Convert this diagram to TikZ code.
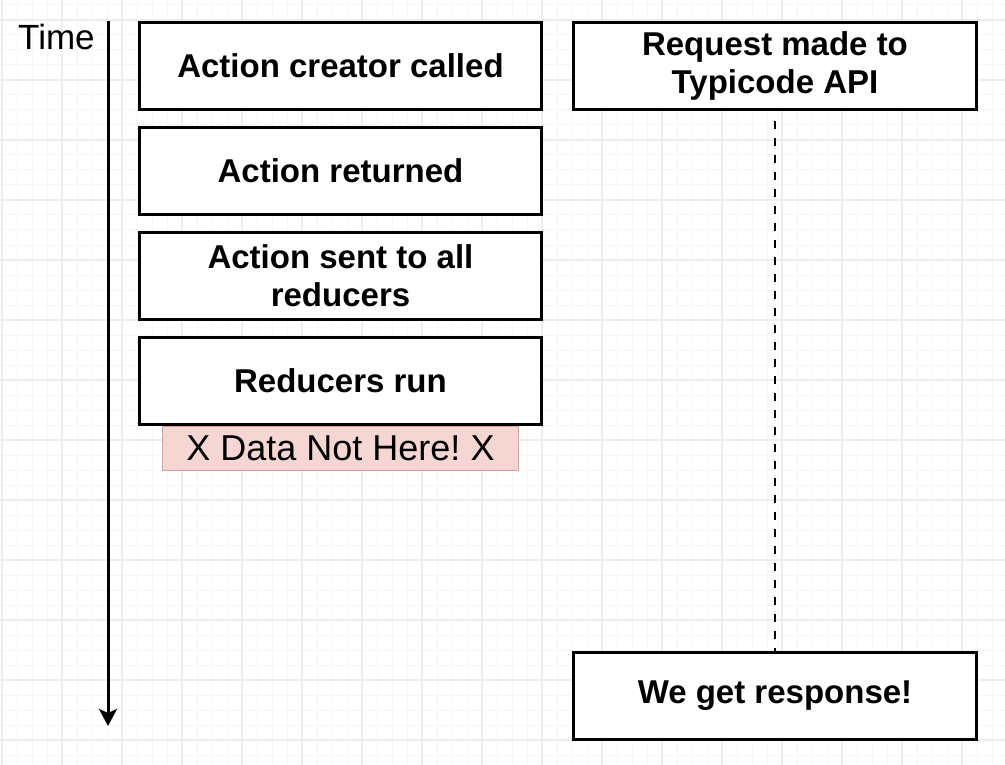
\documentclass[tikz,border=0pt]{standalone}
\usepackage{fontspec}
\setmainfont{Liberation Sans}
\usetikzlibrary{arrows.meta}
\frenchspacing
\definecolor{gridminor}{RGB}{246,246,246}
\definecolor{gridmajor}{RGB}{237,237,237}
\definecolor{warnfill}{RGB}{246,214,211}
\definecolor{warndraw}{RGB}{214,160,155}
\tikzset{
  stepbox/.style={draw=black, fill=white, line width=3pt, inner sep=0pt,
    minimum width=402pt, minimum height=87pt, align=center,
    font=\fontsize{33}{38}\selectfont\bfseries},
  warnbox/.style={draw=warndraw, fill=warnfill, line width=1.2pt, inner sep=0pt,
    minimum width=356pt, minimum height=44pt,
    font=\fontsize{36}{40}\selectfont},
  timeline/.style={line width=3pt, -{Stealth[length=17pt,width=18pt,inset=4pt]}},
  waitline/.style={line width=2.6pt, dash pattern=on 8pt off 9pt},
}
\begin{document}
\begin{tikzpicture}[x=1pt,y=-1pt]
\useasboundingbox (0,0) rectangle (1005,765);
\fill[white] (0,0) rectangle (1005,765);
% grid
\foreach \x in {2,17,...,1004} \draw[gridminor, line width=1pt] (\x,0) -- (\x,765);
\foreach \y in {5,20,...,764} \draw[gridminor, line width=1pt] (0,\y) -- (1005,\y);
\foreach \x in {2,62,...,1004} \draw[gridmajor, line width=1.2pt] (\x,0) -- (\x,765);
\foreach \y in {20,80,...,764} \draw[gridmajor, line width=1.2pt] (0,\y) -- (1005,\y);
% time axis
\node (time) [anchor=base west, inner sep=0pt, font=\fontsize{35}{40}\selectfont] at (18,50) {Time};
\coordinate (t0) at (108,21);
\coordinate (t1) at (108,726);
\draw[timeline] (t0) -- (t1);
% left column
\node (b1) [stepbox] at (340.5,66) {Action creator called};
\node (b2) [stepbox] at (340.5,171) {Action returned};
\node (b3) [stepbox] at (340.5,276) {Action sent to all\\reducers};
\node (warn) [warnbox] at (340.5,448.5) {X Data Not Here! X};
\node (b4) [stepbox] at (340.5,381) {Reducers run};
% right column
\node (req) [stepbox, minimum width=403pt] at (775,66) {Request made to\\Typicode API};
\node (resp) [stepbox, minimum width=403pt] at (775,696) {We get response!};
\draw[waitline, shorten <=10pt] (req.south) -- (resp.north);
\end{tikzpicture}
\end{document}
